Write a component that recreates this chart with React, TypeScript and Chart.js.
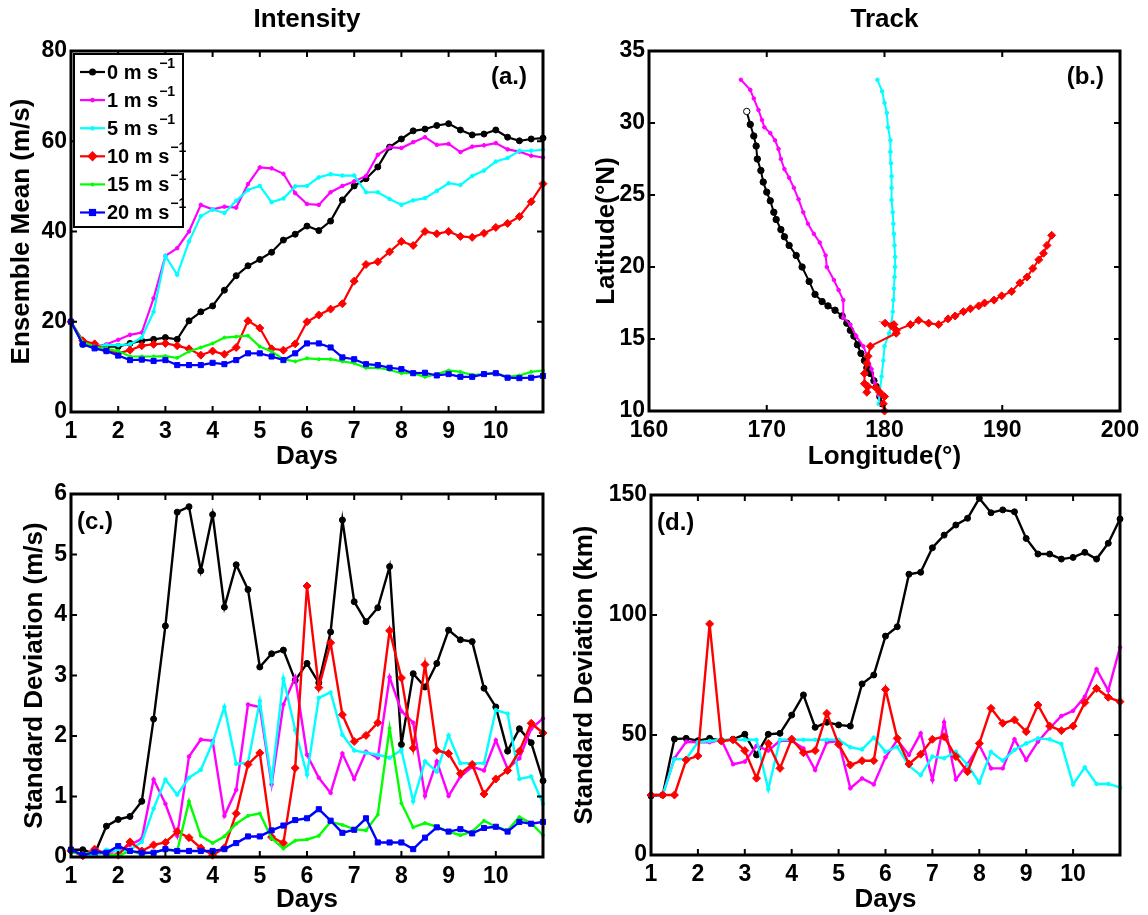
import React, { useEffect, useRef } from 'react';
import { Chart, registerables } from 'chart.js';

Chart.register(...registerables);

const FONT = '"Liberation Sans", Arial, Helvetica, sans-serif';

// Forecast time in days (6-hourly output)
const DAYS = [1, 1.25, 1.5, 1.75, 2, 2.25, 2.5, 2.75, 3, 3.25, 3.5, 3.75, 4, 4.25, 4.5, 4.75, 5, 5.25, 5.5, 5.75, 6, 6.25, 6.5, 6.75, 7, 7.25, 7.5, 7.75, 8, 8.25, 8.5, 8.75, 9, 9.25, 9.5, 9.75, 10, 10.25, 10.5, 10.75, 11];

// Experiments (uniform flow speed, m/s)
const SPEEDS = [0, 1, 5, 10, 15, 20];

// (a) ensemble-mean intensity (m/s)
const MEAN_0 = [20, 15, 14.5, 14.5, 14.5, 15.2, 15.8, 16.1, 16.5, 16.1, 20.2, 22.2, 23.5, 27, 30.2, 32.4, 33.8, 35.4, 38.1, 39.4, 41.2, 40.2, 42.3, 47, 50.1, 51.7, 54.3, 58.7, 60.5, 62.3, 62.7, 63.5, 63.9, 62.5, 61.4, 61.6, 62.5, 60.9, 60.1, 60.5, 60.7];
const MEAN_1 = [20, 15.5, 14.5, 15, 16, 17.1, 17.6, 25.2, 34.6, 36.3, 40, 45.9, 44.9, 45.5, 45.3, 50.5, 54.2, 54, 52.8, 48.5, 46.1, 45.9, 48.7, 50.1, 51.1, 52.3, 57, 58.7, 58.5, 59.8, 60.9, 59.2, 59.4, 57.6, 58.8, 59.1, 59.6, 58.2, 57.7, 56.8, 56.4];
const MEAN_5 = [20, 15, 14.5, 14.8, 14.8, 15, 16.5, 22.2, 34.6, 30.4, 37.8, 43.4, 44.9, 44.1, 46.8, 49.2, 50.1, 46.5, 47.3, 50, 50.1, 52, 52.7, 52.4, 52.4, 48.7, 48.7, 47.2, 45.9, 46.9, 47.4, 49, 50.7, 50.3, 52.3, 53.5, 55.5, 56.3, 57.9, 57.9, 58.1];
const MEAN_10 = [20, 15.8, 15.1, 13.7, 13, 13.7, 14.7, 15, 15.2, 14.7, 14, 12.6, 13.5, 12.8, 14.3, 20.2, 18.6, 14, 13.7, 15.1, 20, 21.5, 22.8, 24, 29, 32.7, 33.3, 35.5, 37.8, 36.9, 40, 39.5, 40, 38.9, 38.7, 39.6, 40.9, 41.8, 43.3, 46.6, 50.6];
const MEAN_15 = [20, 15.5, 14.5, 14, 13.5, 12.3, 12.3, 12.3, 12.4, 12, 13.4, 14.3, 15.2, 16.5, 16.7, 16.9, 14.5, 13.4, 11.7, 11.2, 11.9, 11.7, 11.7, 11.2, 10.8, 9.8, 9.8, 9.3, 8.6, 8.6, 7.8, 8.4, 9.2, 8.9, 8.2, 8.4, 8.6, 7.8, 8.1, 8.9, 9.2];
const MEAN_20 = [20, 15, 14.1, 13.5, 12.5, 11.5, 11.6, 11.3, 11.5, 10.4, 10.4, 10.4, 10.9, 10.6, 11.5, 13, 13, 12.3, 11.5, 13, 15.2, 15.2, 14.3, 12.1, 11.7, 10.6, 10.4, 9.8, 9.5, 8.6, 8.7, 8.1, 8.4, 7.8, 7.8, 8.4, 8.6, 7.6, 7.5, 7.6, 8];

// (c) intensity spread (m/s)
const SD_INT_0 = [0.12, 0.12, 0.05, 0.51, 0.62, 0.67, 0.92, 2.28, 3.82, 5.7, 5.79, 4.73, 5.66, 4.13, 4.83, 4.42, 3.14, 3.36, 3.42, 2.92, 3.2, 2.88, 3.72, 5.57, 4.22, 3.89, 4.12, 4.8, 1.86, 3.03, 2.81, 3.2, 3.75, 3.59, 3.56, 2.79, 2.48, 1.75, 2.12, 1.89, 1.26];
const SD_INT_1 = [0.1, 0.05, 0.05, 0.08, 0.1, 0.2, 0.3, 1.28, 0.88, 0.35, 1.66, 1.94, 1.92, 0.68, 1.11, 2.52, 2.48, 1.2, 2.52, 2.97, 1.69, 1.31, 1.06, 1.71, 1.29, 1.74, 1.64, 2.97, 2.41, 2.22, 1.01, 1.58, 1.01, 1.33, 1.49, 1.43, 1.93, 1.46, 1.63, 2.12, 2.29];
const SD_INT_5 = [0.08, 0.05, 0.03, 0.12, 0.1, 0.12, 0.25, 0.8, 1.28, 1.03, 1.31, 1.44, 1.89, 2.48, 1.54, 1.56, 2.58, 1.25, 2.95, 2.1, 1.36, 2.63, 2.72, 2.02, 1.76, 1.72, 1.69, 1.64, 1.77, 0.92, 1.58, 1.41, 2.01, 1.55, 1.55, 1.55, 2.43, 2.37, 1.29, 1.33, 0.88];
const SD_INT_10 = [0.1, 0.02, 0.13, 0.05, 0.03, 0.25, 0.1, 0.2, 0.24, 0.42, 0.32, 0.15, 0.03, 0.15, 0.72, 1.53, 1.72, 0.33, 0.23, 1.47, 4.48, 2.8, 3.54, 2.35, 1.91, 2.01, 2.22, 3.74, 2.96, 1.8, 3.18, 1.76, 1.71, 1.38, 1.53, 1.04, 1.29, 1.43, 1.75, 2.21, 2.05];
const SD_INT_15 = [0.08, 0.05, 0.08, 0.05, 0.02, 0.1, 0.05, 0.08, 0.12, 0.1, 0.92, 0.35, 0.23, 0.34, 0.55, 0.68, 0.72, 0.31, 0.14, 0.27, 0.29, 0.35, 0.58, 0.53, 0.46, 0.44, 0.7, 2.13, 0.89, 0.49, 0.56, 0.5, 0.42, 0.36, 0.42, 0.6, 0.5, 0.44, 0.66, 0.56, 0.36];
const SD_INT_20 = [0.12, 0.03, 0.08, 0.07, 0.18, 0.1, 0.07, 0.07, 0.13, 0.1, 0.1, 0.1, 0.1, 0.13, 0.23, 0.34, 0.34, 0.44, 0.52, 0.61, 0.64, 0.79, 0.6, 0.4, 0.45, 0.64, 0.24, 0.24, 0.24, 0.13, 0.32, 0.49, 0.42, 0.46, 0.39, 0.48, 0.5, 0.42, 0.58, 0.55, 0.58];

// (d) track spread (km)
const SD_TRK_0 = [24.6, 25, 48.3, 48.6, 47.6, 48.6, 47.6, 48.2, 50.3, 41.7, 50.3, 50.7, 58.3, 66.7, 53.2, 55.3, 54.2, 53.7, 71.3, 75, 91.2, 95.1, 117, 117.8, 128, 133.3, 137.5, 140.3, 148.6, 142.6, 143.8, 143, 131.9, 125.4, 125.4, 123.3, 124, 126.1, 123.3, 129.9, 140];
const SD_TRK_1 = [25, 25, 40.3, 47.2, 47, 47, 48, 37.8, 38.9, 45.5, 43.5, 47.6, 47.6, 44.4, 35.4, 47, 47.4, 27.8, 31.9, 29.4, 40.7, 47.9, 41.7, 50.7, 31.3, 55.3, 31.5, 37.9, 45.8, 36.1, 36.1, 48.2, 39.6, 47.2, 52.8, 57.9, 60.1, 66, 77.4, 68.5, 86.5];
const SD_TRK_5 = [25, 25, 40, 40, 47, 47.5, 48, 48, 48, 48, 27.4, 48, 48, 48, 48, 48, 48, 44.9, 44, 48.9, 43, 45.1, 37.1, 33.3, 41, 40.3, 43, 37.5, 30.1, 43, 39.3, 43.8, 46.5, 48.6, 48.2, 46.3, 29.4, 36.5, 29.6, 29.6, 28.2];
const SD_TRK_10 = [25, 25, 25, 39.6, 41.3, 96.3, 47.5, 48, 43.5, 32, 46.5, 36.1, 48.3, 42.6, 43.5, 59, 46.1, 37.5, 39.3, 39.3, 69, 48.6, 37.9, 42, 48.2, 49.3, 41, 34.7, 46.5, 61.1, 54.9, 56.3, 51.4, 62.5, 53.7, 51.8, 53.7, 63.5, 69.4, 65.7, 63.9];

// (b) ensemble-mean tracks (longitude °E, latitude °N)
const TRACK_LON_0 = [179.8, 179.6, 179.3, 179.1, 178.8, 178.5, 178.3, 178.0, 177.7, 177.4, 177.1, 176.8, 176.4, 175.8, 175.2, 174.7, 174.1, 173.6, 173.0, 172.5, 171.9, 171.5, 171.2, 170.8, 170.6, 170.3, 170.0, 169.7, 169.5, 169.2, 169.1, 168.9, 168.6, 168.3];
const TRACK_LAT_0 = [10.5, 11.0, 11.7, 12.1, 12.6, 13.0, 13.5, 14.0, 14.6, 15.2, 15.6, 16.1, 16.6, 17.0, 17.3, 17.6, 18.1, 19.0, 20.0, 20.8, 21.5, 22.1, 22.6, 23.3, 23.8, 24.6, 25.2, 25.9, 26.7, 27.5, 28.4, 29.1, 29.9, 30.8];
const TRACK_LON_1 = [179.6, 179.5, 179.2, 178.9, 178.6, 178.2, 177.6, 177.1, 176.5, 176.5, 176.1, 175.7, 175.1, 175.0, 174.5, 174.0, 173.5, 173.1, 172.7, 172.3, 171.9, 171.5, 171.2, 171.0, 170.7, 170.3, 169.8, 169.6, 169.3, 168.9, 168.6, 167.8];
const TRACK_LAT_1 = [10.5, 11.1, 11.9, 12.9, 13.7, 14.5, 15.2, 16.0, 16.5, 17.7, 18.4, 19.1, 20.0, 20.8, 21.7, 22.3, 23.0, 23.8, 24.7, 25.5, 26.2, 26.8, 27.5, 28.2, 28.8, 29.3, 29.7, 30.2, 30.9, 31.7, 32.3, 33.0];
const TRACK_LON_5 = [179.5, 179.6, 179.75, 179.9, 180.0, 180.4, 180.6, 180.7, 180.75, 180.8, 180.85, 180.9, 180.9, 180.85, 180.8, 180.75, 180.7, 180.6, 180.6, 180.6, 180.55, 180.5, 180.5, 180.3, 180.2, 180.0, 179.8, 179.4];
const TRACK_LAT_5 = [10.5, 11.2, 12.4, 13.5, 14.5, 15.4, 16.1, 16.9, 17.7, 18.5, 19.3, 20.0, 20.7, 21.5, 22.3, 23.0, 23.8, 24.65, 25.5, 26.3, 27.2, 28.0, 28.8, 29.7, 30.7, 31.4, 32.2, 33.0];
const TRACK_LON_10 = [180.0, 179.9, 180.0, 179.6, 179.3, 178.6, 178.5, 178.3, 178.3, 178.5, 178.6, 178.8, 181.0, 180.6, 180.05, 180.8, 181.0, 182.2, 182.9, 183.75, 184.6, 185.4, 186.0, 186.7, 187.3, 188.0, 188.5, 189.3, 189.95, 190.8, 191.5, 192.1, 192.6, 193.1, 193.5, 193.8, 194.2];
const TRACK_LAT_10 = [10.0, 10.5, 11.0, 11.3, 11.6, 11.7, 11.3, 11.9, 12.6, 13.3, 13.8, 14.5, 15.4, 15.9, 16.1, 16.0, 15.6, 16.0, 16.3, 16.1, 16.0, 16.4, 16.6, 16.9, 17.1, 17.3, 17.5, 17.7, 18.0, 18.3, 18.9, 19.3, 19.9, 20.5, 20.95, 21.5, 22.2];

// Line styling per experiment
const COLORS = ['#000000', '#ff00ff', '#00ffff', '#ff0000', '#00ff00', '#0000ff'];
const MARKERS = ['circle', 'circle', 'circle', 'rectRot', 'circle', 'rect'];
const RADII = [3, 1.8, 1.8, 4, 1.5, 3.6];

const tickFont = { family: FONT, size: 23, weight: 'bold' as const };
const titleFont = { family: FONT, size: 26, weight: 'bold' as const };

const series = (ys: number[]) => ys.map((y, i) => ({ x: DAYS[i], y }));
const track = (lon: number[], lat: number[]) => lon.map((x, i) => ({ x, y: lat[i] }));

function dataset(k: number, data: { x: number; y: number }[], width = 2.2) {
  return {
    label: `${SPEEDS[k]} m s-1`,
    data,
    borderColor: COLORS[k],
    backgroundColor: COLORS[k],
    pointBackgroundColor: COLORS[k],
    pointBorderColor: COLORS[k],
    pointStyle: MARKERS[k],
    pointRadius: RADII[k],
    pointBorderWidth: 1,
    borderWidth: width,
    showLine: true,
    tension: 0,
    clip: false,
    order: 10 - k,
  };
}

function drawMarker(ctx: CanvasRenderingContext2D, style: string, x: number, y: number, r: number, color: string) {
  ctx.fillStyle = color;
  ctx.beginPath();
  if (style === 'rect') {
    ctx.rect(x - r, y - r, 2 * r, 2 * r);
  } else if (style === 'rectRot') {
    ctx.moveTo(x, y - r * 1.3);
    ctx.lineTo(x + r * 1.3, y);
    ctx.lineTo(x, y + r * 1.3);
    ctx.lineTo(x - r * 1.3, y);
    ctx.closePath();
  } else {
    ctx.arc(x, y, r + 0.5, 0, Math.PI * 2);
  }
  ctx.fill();
}

type PanelCfg = {
  left: number;
  top: number;
  width: number;
  height: number;
  padTop: number;
  padRight: number;
  yWidth: number;
  xHeight: number;
  xMin: number;
  xMax: number;
  xStep: number;
  xTitle: string;
  hideLastX: boolean;
  yMin: number;
  yMax: number;
  yStep: number;
  yTitle: string;
  yTitlePad: number;
  heading?: string;
  tag: string;
  tagSide: 'left' | 'right';
  legend?: boolean;
  datasets: any[];
};

function decorPlugin(cfg: PanelCfg) {
  return {
    id: 'decor',
    afterDatasetsDraw(chart: any) {
      const { ctx, chartArea: a, scales } = chart;
      ctx.save();
      ctx.strokeStyle = '#000';
      ctx.lineWidth = 2;
      const tl = 6;
      ctx.beginPath();
      for (const t of scales.x.ticks) {
        const px = scales.x.getPixelForValue(t.value);
        ctx.moveTo(px, a.bottom);
        ctx.lineTo(px, a.bottom - tl);
        ctx.moveTo(px, a.top);
        ctx.lineTo(px, a.top + tl);
      }
      for (const t of scales.y.ticks) {
        const py = scales.y.getPixelForValue(t.value);
        ctx.moveTo(a.left, py);
        ctx.lineTo(a.left + tl, py);
        ctx.moveTo(a.right, py);
        ctx.lineTo(a.right - tl, py);
      }
      ctx.stroke();
      ctx.lineWidth = 3;
      ctx.strokeRect(a.left, a.top, a.right - a.left, a.bottom - a.top);
      ctx.restore();
    },
    afterDraw(chart: any) {
      const { ctx, chartArea: a } = chart;
      ctx.save();
      ctx.fillStyle = '#000';
      ctx.textBaseline = 'middle';
      if (cfg.heading) {
        ctx.font = `bold 26px ${FONT}`;
        ctx.textAlign = 'center';
        ctx.fillText(cfg.heading, (a.left + a.right) / 2, a.top - 31);
      }
      ctx.font = `bold 24px ${FONT}`;
      if (cfg.tagSide === 'right') {
        ctx.textAlign = 'right';
        ctx.fillText(cfg.tag, a.right - 16, a.top + 26);
      } else {
        ctx.textAlign = 'left';
        ctx.fillText(cfg.tag, a.left + 6, a.top + 28);
      }
      if (cfg.legend) {
        const bx = a.left + 3;
        const by = a.top + 3;
        const bw = 109;
        const bh = 173;
        ctx.fillStyle = '#fff';
        ctx.fillRect(bx, by, bw, bh);
        ctx.strokeStyle = '#000';
        ctx.lineWidth = 2;
        ctx.strokeRect(bx, by, bw, bh);
        SPEEDS.forEach((s, k) => {
          const y = by + 18 + k * 28.1;
          ctx.strokeStyle = COLORS[k];
          ctx.lineWidth = 2.2;
          ctx.beginPath();
          ctx.moveTo(bx + 6, y);
          ctx.lineTo(bx + 31, y);
          ctx.stroke();
          drawMarker(ctx, MARKERS[k], bx + 18.5, y, RADII[k], COLORS[k]);
          ctx.fillStyle = '#000';
          ctx.textAlign = 'left';
          ctx.font = `bold 20px ${FONT}`;
          const txt = `${s} m s`;
          ctx.fillText(txt, bx + 33, y + 1);
          const w = ctx.measureText(txt).width;
          ctx.font = `bold 14px ${FONT}`;
          ctx.fillText('\u22121', bx + 34 + w, y - 8);
        });
      }
      ctx.restore();
    },
  };
}

function buildConfig(cfg: PanelCfg): any {
  return {
    type: 'scatter',
    data: { datasets: cfg.datasets },
    options: {
      responsive: false,
      animation: false,
      events: [],
      layout: { padding: { top: cfg.padTop, right: cfg.padRight, left: 0, bottom: 0 } },
      plugins: { legend: { display: false }, tooltip: { enabled: false } },
      scales: {
        x: {
          type: 'linear',
          min: cfg.xMin,
          max: cfg.xMax,
          grid: { display: false, drawTicks: false },
          border: { display: false },
          afterFit: (s: any) => {
            s.height = cfg.xHeight;
          },
          ticks: {
            stepSize: cfg.xStep,
            autoSkip: false,
            maxRotation: 0,
            padding: 6,
            color: '#000',
            font: tickFont,
            callback: (v: number) => (cfg.hideLastX && v === cfg.xMax ? '' : String(v)),
          },
          title: { display: true, text: cfg.xTitle, color: '#000', font: titleFont, padding: 0 },
        },
        y: {
          type: 'linear',
          min: cfg.yMin,
          max: cfg.yMax,
          grid: { display: false, drawTicks: false },
          border: { display: false },
          afterFit: (s: any) => {
            s.width = cfg.yWidth;
          },
          ticks: {
            stepSize: cfg.yStep,
            autoSkip: false,
            padding: 4,
            color: '#000',
            font: tickFont,
          },
          title: {
            display: true,
            text: cfg.yTitle,
            color: '#000',
            font: titleFont,
            padding: { top: cfg.yTitlePad, bottom: 0 },
          },
        },
      },
    },
    plugins: [decorPlugin(cfg)],
  };
}

const blackTrackFill = TRACK_LON_0.map((_, i) => (i === TRACK_LON_0.length - 1 ? '#ffffff' : '#000000'));

const PANELS: PanelCfg[] = [
  {
    left: 0, top: 0, width: 574, height: 472, padTop: 51, padRight: 31, yWidth: 71, xHeight: 60,
    xMin: 1, xMax: 11, xStep: 1, xTitle: 'Days', hideLastX: true,
    yMin: 0, yMax: 80, yStep: 20, yTitle: 'Ensemble Mean (m/s)', yTitlePad: 6,
    heading: 'Intensity', tag: '(a.)', tagSide: 'right', legend: true,
    datasets: [MEAN_0, MEAN_1, MEAN_5, MEAN_10, MEAN_15, MEAN_20].map((v, k) => dataset(k, series(v))),
  },
  {
    left: 574, top: 0, width: 574, height: 472, padTop: 51, padRight: 28, yWidth: 75, xHeight: 61,
    xMin: 160, xMax: 200, xStep: 10, xTitle: 'Longitude(\u00b0)', hideLastX: false,
    yMin: 10, yMax: 35, yStep: 5, yTitle: 'Latitude(\u00b0N)', yTitlePad: 17,
    heading: 'Track', tag: '(b.)', tagSide: 'right',
    datasets: [
      { ...dataset(0, track(TRACK_LON_0, TRACK_LAT_0), 2), pointBackgroundColor: blackTrackFill, pointRadius: 3.2 },
      dataset(1, track(TRACK_LON_1, TRACK_LAT_1), 2),
      dataset(2, track(TRACK_LON_5, TRACK_LAT_5), 2),
      dataset(3, track(TRACK_LON_10, TRACK_LAT_10), 2),
    ],
  },
  {
    left: 0, top: 472, width: 574, height: 443, padTop: 22, padRight: 31, yWidth: 71, xHeight: 58,
    xMin: 1, xMax: 11, xStep: 1, xTitle: 'Days', hideLastX: true,
    yMin: 0, yMax: 6, yStep: 1, yTitle: 'Standard Deviation (m/s)', yTitlePad: 19,
    tag: '(c.)', tagSide: 'left',
    datasets: [SD_INT_0, SD_INT_1, SD_INT_5, SD_INT_10, SD_INT_15, SD_INT_20].map((v, k) => dataset(k, series(v), 2.4)),
  },
  {
    left: 560, top: 472, width: 588, height: 443, padTop: 23, padRight: 28, yWidth: 91, xHeight: 60,
    xMin: 1, xMax: 11, xStep: 1, xTitle: 'Days', hideLastX: true,
    yMin: 0, yMax: 150, yStep: 50, yTitle: 'Standard Deviation (km)', yTitlePad: 9,
    tag: '(d.)', tagSide: 'left',
    datasets: [SD_TRK_0, SD_TRK_1, SD_TRK_5, SD_TRK_10].map((v, k) => dataset(k, series(v), 2.4)),
  },
];

function Panel({ cfg }: { cfg: PanelCfg }) {
  const ref = useRef<HTMLCanvasElement>(null);
  useEffect(() => {
    if (!ref.current) return;
    const chart = new Chart(ref.current, buildConfig(cfg));
    return () => chart.destroy();
  }, [cfg]);
  return (
    <canvas
      ref={ref}
      width={cfg.width}
      height={cfg.height}
      style={{ position: 'absolute', left: cfg.left, top: cfg.top, width: cfg.width, height: cfg.height }}
    />
  );
}

export default function App() {
  return (
    <div style={{ position: 'absolute', left: 0, top: 0, width: 1148, height: 915, background: '#fff', overflow: 'hidden' }}>
      {PANELS.map((p) => (
        <Panel key={p.tag} cfg={p} />
      ))}
    </div>
  );
}
